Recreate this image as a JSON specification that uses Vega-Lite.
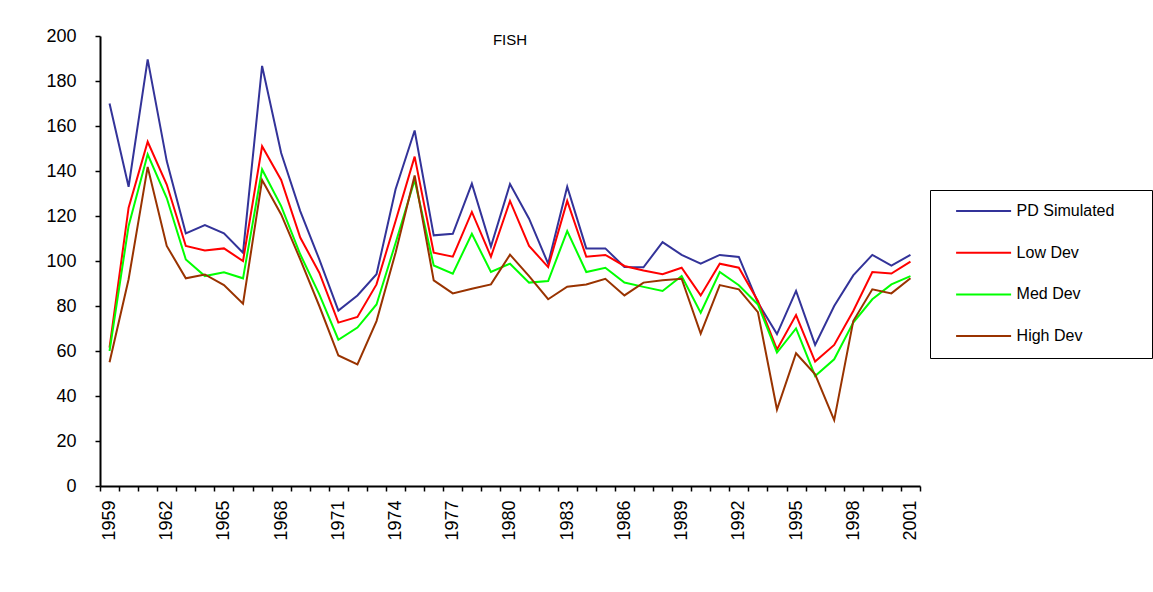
{
  "$schema": "https://vega.github.io/schema/vega-lite/v6.json",
  "autosize": {"type": "none"},
  "padding": {"left": 100, "top": 36, "right": 233, "bottom": 106},
  "width": 820,
  "height": 450,
  "background": "white",
  "title": {"text": "FISH", "frame": "group", "anchor": "middle", "offset": 0, "dy": 36, "baseline": "bottom", "fontSize": 15, "fontWeight": "normal", "font": "Liberation Sans", "color": "black"},
  "config": {
    "view": {"stroke": null},
    "font": "Liberation Sans",
    "axis": {"grid": false, "domainColor": "black", "domainWidth": 2, "tickColor": "black", "tickWidth": 1.5, "tickSize": 5, "labelColor": "black", "labelFont": "Liberation Sans", "labelFontSize": 18, "title": null}
  },
  "data": {"values": [
    {"year":1959,"series":"PD Simulated","value":170},{"year":1960,"series":"PD Simulated","value":133},{"year":1961,"series":"PD Simulated","value":189.6},{"year":1962,"series":"PD Simulated","value":144.4},{"year":1963,"series":"PD Simulated","value":112.3},{"year":1964,"series":"PD Simulated","value":116},{"year":1965,"series":"PD Simulated","value":112.3},{"year":1966,"series":"PD Simulated","value":103.7},{"year":1967,"series":"PD Simulated","value":186.7},{"year":1968,"series":"PD Simulated","value":148},{"year":1969,"series":"PD Simulated","value":122.2},{"year":1970,"series":"PD Simulated","value":100.7},{"year":1971,"series":"PD Simulated","value":78},{"year":1972,"series":"PD Simulated","value":84.7},{"year":1973,"series":"PD Simulated","value":94.1},{"year":1974,"series":"PD Simulated","value":131.9},{"year":1975,"series":"PD Simulated","value":158},{"year":1976,"series":"PD Simulated","value":111.4},{"year":1977,"series":"PD Simulated","value":112.1},{"year":1978,"series":"PD Simulated","value":134.4},{"year":1979,"series":"PD Simulated","value":106.4},{"year":1980,"series":"PD Simulated","value":134.2},{"year":1981,"series":"PD Simulated","value":118.8},{"year":1982,"series":"PD Simulated","value":98.8},{"year":1983,"series":"PD Simulated","value":133},{"year":1984,"series":"PD Simulated","value":105.6},{"year":1985,"series":"PD Simulated","value":105.6},{"year":1986,"series":"PD Simulated","value":97.3},{"year":1987,"series":"PD Simulated","value":97.2},{"year":1988,"series":"PD Simulated","value":108.4},{"year":1989,"series":"PD Simulated","value":102.7},{"year":1990,"series":"PD Simulated","value":98.8},{"year":1991,"series":"PD Simulated","value":102.7},{"year":1992,"series":"PD Simulated","value":101.8},{"year":1993,"series":"PD Simulated","value":81.5},{"year":1994,"series":"PD Simulated","value":67.5},{"year":1995,"series":"PD Simulated","value":86.7},{"year":1996,"series":"PD Simulated","value":62.7},{"year":1997,"series":"PD Simulated","value":80},{"year":1998,"series":"PD Simulated","value":93.6},{"year":1999,"series":"PD Simulated","value":102.7},{"year":2000,"series":"PD Simulated","value":98},{"year":2001,"series":"PD Simulated","value":102.7},
    {"year":1959,"series":"Low Dev","value":61.5},{"year":1960,"series":"Low Dev","value":123.7},{"year":1961,"series":"Low Dev","value":153},{"year":1962,"series":"Low Dev","value":134},{"year":1963,"series":"Low Dev","value":106.7},{"year":1964,"series":"Low Dev","value":104.7},{"year":1965,"series":"Low Dev","value":105.6},{"year":1966,"series":"Low Dev","value":100},{"year":1967,"series":"Low Dev","value":151},{"year":1968,"series":"Low Dev","value":136},{"year":1969,"series":"Low Dev","value":110.4},{"year":1970,"series":"Low Dev","value":94.8},{"year":1971,"series":"Low Dev","value":72.6},{"year":1972,"series":"Low Dev","value":75.1},{"year":1973,"series":"Low Dev","value":89.6},{"year":1974,"series":"Low Dev","value":117.8},{"year":1975,"series":"Low Dev","value":146.4},{"year":1976,"series":"Low Dev","value":103.7},{"year":1977,"series":"Low Dev","value":101.9},{"year":1978,"series":"Low Dev","value":121.8},{"year":1979,"series":"Low Dev","value":101.9},{"year":1980,"series":"Low Dev","value":126.7},{"year":1981,"series":"Low Dev","value":106.7},{"year":1982,"series":"Low Dev","value":97.3},{"year":1983,"series":"Low Dev","value":126.7},{"year":1984,"series":"Low Dev","value":101.9},{"year":1985,"series":"Low Dev","value":102.7},{"year":1986,"series":"Low Dev","value":97.8},{"year":1987,"series":"Low Dev","value":95.8},{"year":1988,"series":"Low Dev","value":94.1},{"year":1989,"series":"Low Dev","value":97},{"year":1990,"series":"Low Dev","value":84.7},{"year":1991,"series":"Low Dev","value":98.8},{"year":1992,"series":"Low Dev","value":97},{"year":1993,"series":"Low Dev","value":82.2},{"year":1994,"series":"Low Dev","value":60.7},{"year":1995,"series":"Low Dev","value":76},{"year":1996,"series":"Low Dev","value":55.3},{"year":1997,"series":"Low Dev","value":62.7},{"year":1998,"series":"Low Dev","value":77.8},{"year":1999,"series":"Low Dev","value":95.1},{"year":2000,"series":"Low Dev","value":94.4},{"year":2001,"series":"Low Dev","value":99.7},
    {"year":1959,"series":"Med Dev","value":60},{"year":1960,"series":"Med Dev","value":115.6},{"year":1961,"series":"Med Dev","value":147.4},{"year":1962,"series":"Med Dev","value":128},{"year":1963,"series":"Med Dev","value":100.7},{"year":1964,"series":"Med Dev","value":93.3},{"year":1965,"series":"Med Dev","value":95},{"year":1966,"series":"Med Dev","value":92.3},{"year":1967,"series":"Med Dev","value":140.7},{"year":1968,"series":"Med Dev","value":124.4},{"year":1969,"series":"Med Dev","value":103},{"year":1970,"series":"Med Dev","value":85.2},{"year":1971,"series":"Med Dev","value":65},{"year":1972,"series":"Med Dev","value":70.4},{"year":1973,"series":"Med Dev","value":80.7},{"year":1974,"series":"Med Dev","value":108},{"year":1975,"series":"Med Dev","value":136},{"year":1976,"series":"Med Dev","value":98},{"year":1977,"series":"Med Dev","value":94.4},{"year":1978,"series":"Med Dev","value":112.1},{"year":1979,"series":"Med Dev","value":95.1},{"year":1980,"series":"Med Dev","value":98.8},{"year":1981,"series":"Med Dev","value":90.4},{"year":1982,"series":"Med Dev","value":91.1},{"year":1983,"series":"Med Dev","value":113.3},{"year":1984,"series":"Med Dev","value":95.1},{"year":1985,"series":"Med Dev","value":97},{"year":1986,"series":"Med Dev","value":90.4},{"year":1987,"series":"Med Dev","value":88.5},{"year":1988,"series":"Med Dev","value":86.7},{"year":1989,"series":"Med Dev","value":93.3},{"year":1990,"series":"Med Dev","value":77},{"year":1991,"series":"Med Dev","value":95.1},{"year":1992,"series":"Med Dev","value":89.2},{"year":1993,"series":"Med Dev","value":80.7},{"year":1994,"series":"Med Dev","value":59.3},{"year":1995,"series":"Med Dev","value":70},{"year":1996,"series":"Med Dev","value":48.9},{"year":1997,"series":"Med Dev","value":56.3},{"year":1998,"series":"Med Dev","value":72.6},{"year":1999,"series":"Med Dev","value":83},{"year":2000,"series":"Med Dev","value":89.6},{"year":2001,"series":"Med Dev","value":93.3},
    {"year":1959,"series":"High Dev","value":55},{"year":1960,"series":"High Dev","value":91.9},{"year":1961,"series":"High Dev","value":141.8},{"year":1962,"series":"High Dev","value":106.7},{"year":1963,"series":"High Dev","value":92.3},{"year":1964,"series":"High Dev","value":94},{"year":1965,"series":"High Dev","value":89.3},{"year":1966,"series":"High Dev","value":81},{"year":1967,"series":"High Dev","value":136},{"year":1968,"series":"High Dev","value":120.7},{"year":1969,"series":"High Dev","value":100.7},{"year":1970,"series":"High Dev","value":80},{"year":1971,"series":"High Dev","value":58},{"year":1972,"series":"High Dev","value":54},{"year":1973,"series":"High Dev","value":73.3},{"year":1974,"series":"High Dev","value":103.7},{"year":1975,"series":"High Dev","value":138},{"year":1976,"series":"High Dev","value":91.4},{"year":1977,"series":"High Dev","value":85.6},{"year":1978,"series":"High Dev","value":87.7},{"year":1979,"series":"High Dev","value":89.6},{"year":1980,"series":"High Dev","value":102.8},{"year":1981,"series":"High Dev","value":93.3},{"year":1982,"series":"High Dev","value":83},{"year":1983,"series":"High Dev","value":88.6},{"year":1984,"series":"High Dev","value":89.6},{"year":1985,"series":"High Dev","value":92.1},{"year":1986,"series":"High Dev","value":84.7},{"year":1987,"series":"High Dev","value":90.4},{"year":1988,"series":"High Dev","value":91.4},{"year":1989,"series":"High Dev","value":92.1},{"year":1990,"series":"High Dev","value":67.7},{"year":1991,"series":"High Dev","value":89.3},{"year":1992,"series":"High Dev","value":87.4},{"year":1993,"series":"High Dev","value":77.3},{"year":1994,"series":"High Dev","value":34},{"year":1995,"series":"High Dev","value":59},{"year":1996,"series":"High Dev","value":49.6},{"year":1997,"series":"High Dev","value":29.3},{"year":1998,"series":"High Dev","value":73.3},{"year":1999,"series":"High Dev","value":87.4},{"year":2000,"series":"High Dev","value":85.6},{"year":2001,"series":"High Dev","value":92.3}
  ]},
  "mark": {"type": "line", "strokeWidth": 2},
  "encoding": {
    "x": {
      "field": "year", "type": "quantitative",
      "scale": {"domain": [1958.5, 2001.5], "nice": false, "zero": false},
      "axis": {
        "values": [1958.5,1959.5,1960.5,1961.5,1962.5,1963.5,1964.5,1965.5,1966.5,1967.5,1968.5,1969.5,1970.5,1971.5,1972.5,1973.5,1974.5,1975.5,1976.5,1977.5,1978.5,1979.5,1980.5,1981.5,1982.5,1983.5,1984.5,1985.5,1986.5,1987.5,1988.5,1989.5,1990.5,1991.5,1992.5,1993.5,1994.5,1995.5,1996.5,1997.5,1998.5,1999.5,2000.5,2001.5],
        "labelExpr": "(datum.value + 0.5 - 1959) % 3 == 0 ? toString(datum.value + 0.5) : ''",
        "labelOffset": 9.53,
        "labelAngle": 270,
        "labelAlign": "right",
        "labelBaseline": "middle",
        "labelPadding": 9,
        "labelOverlap": false,
        "labelFlush": false,
        "labelBound": false
      }
    },
    "y": {
      "field": "value", "type": "quantitative",
      "scale": {"domain": [0, 200], "nice": false},
      "axis": {"values": [0,20,40,60,80,100,120,140,160,180,200], "labelPadding": 19}
    },
    "color": {
      "field": "series", "type": "nominal",
      "scale": {"domain": ["PD Simulated", "Low Dev", "Med Dev", "High Dev"], "range": ["#333399", "#FF0000", "#00FF00", "#993300"]},
      "legend": {
        "title": null,
        "orient": "none",
        "legendX": 830,
        "legendY": 154,
        "strokeColor": "black",
        "padding": 13,
        "symbolType": "M-4,0H4",
        "symbolSize": 189,
        "symbolStrokeWidth": 2,
        "symbolOffset": 32.6,
        "labelOffset": 25,
        "labelFontSize": 16,
        "labelFont": "Liberation Sans",
        "labelColor": "black",
        "rowPadding": 25.7,
        "labelExpr": "datum.label + '\u2800\u2800'"
      }
    }
  }
}
